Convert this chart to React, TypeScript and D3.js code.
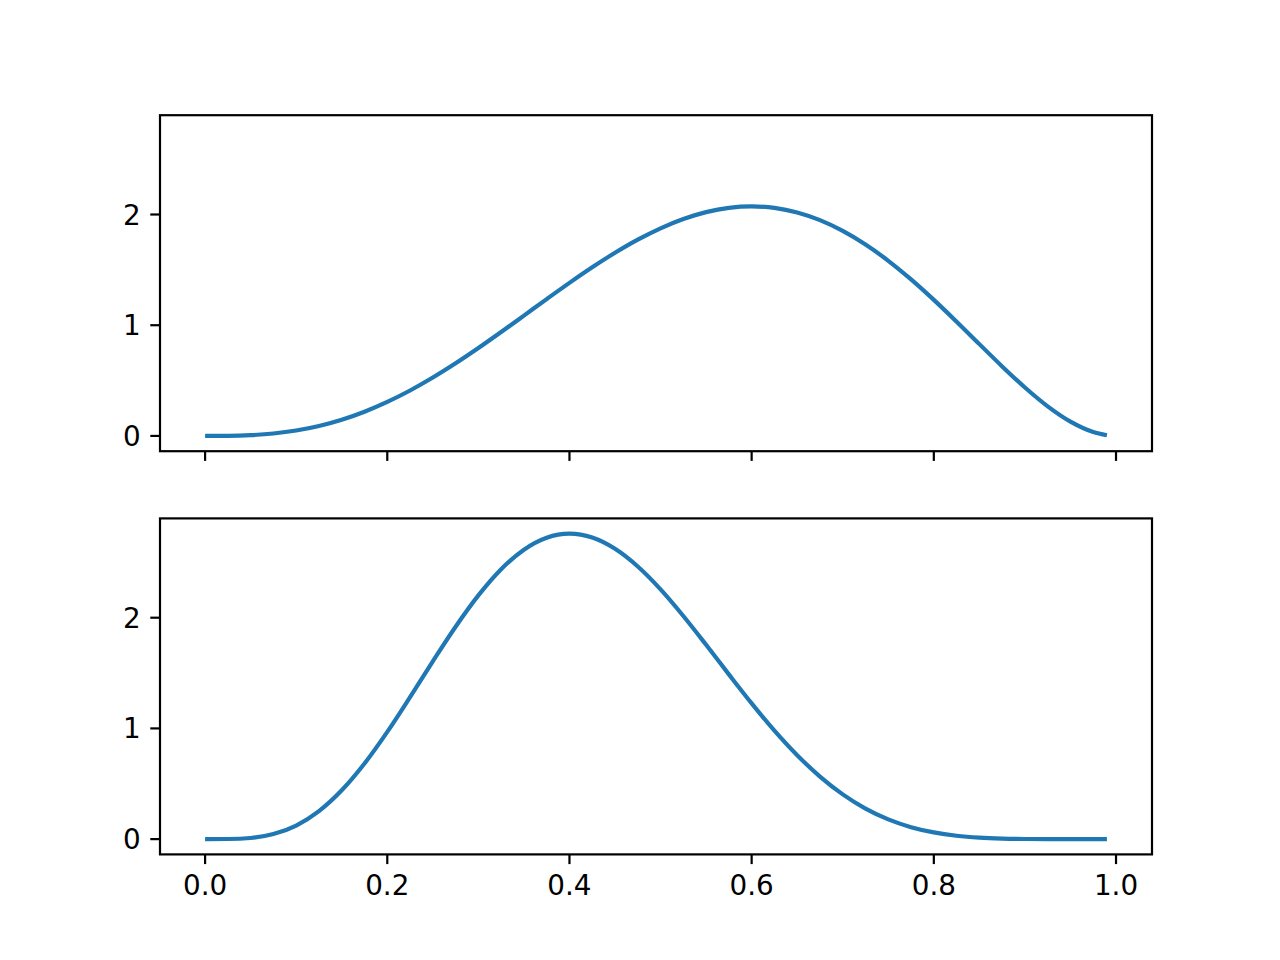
import React from "react";
import * as d3 from "d3";

const xs = [0, 0.025, 0.05, 0.075, 0.1, 0.125, 0.15, 0.175, 0.2, 0.225, 0.25, 0.275, 0.3, 0.325, 0.35, 0.375, 0.4, 0.425, 0.45, 0.475, 0.5, 0.525, 0.55, 0.575, 0.6, 0.625, 0.65, 0.675, 0.7, 0.725, 0.75, 0.775, 0.8, 0.825, 0.85, 0.875, 0.9, 0.925, 0.95, 0.975, 0.99];
const topValues = [0, 0.0009, 0.0068, 0.0217, 0.0486, 0.0897, 0.1463, 0.2189, 0.3072, 0.4105, 0.5273, 0.6559, 0.7938, 0.9384, 1.0869, 1.236, 1.3824, 1.5229, 1.6539, 1.7724, 1.875, 1.9589, 2.0215, 2.0603, 2.0736, 2.0599, 2.0185, 1.9491, 1.8522, 1.7291, 1.582, 1.4139, 1.2288, 1.0318, 0.8291, 0.6281, 0.4374, 0.2671, 0.1286, 0.0348, 0.0058];
const bottomValues = [0, 0.0008, 0.0106, 0.0458, 0.1228, 0.2531, 0.4411, 0.6831, 0.9689, 1.2828, 1.606, 1.9185, 2.2013, 2.4377, 2.6144, 2.7228, 2.759, 2.7238, 2.6221, 2.4623, 2.2559, 2.0157, 1.7553, 1.488, 1.2263, 0.9802, 0.758, 0.5651, 0.4043, 0.276, 0.1784, 0.1081, 0.0606, 0.0307, 0.0137, 0.0052, 0.0015, 0.0003, 0.0001, 0, 0];
const xTicks = [0, 0.2, 0.4, 0.6, 0.8, 1.0];
const yTicks = [0, 1, 2];

const W = 1280, H = 960;
const left = 160, right = 1152;
const panels = [
  { top: 115.2, bottom: 451.2, values: topValues, showX: false },
  { top: 518.4, bottom: 854.4, values: bottomValues, showX: true },
];
const color = "#1f77b4";
const font = "DejaVu Sans, sans-serif";
const fontSize = 27.8;
const tickLen = 9.7;
const spineW = 2.2;

export default function App() {
  const xMin = 0, xMax = 0.99;
  const xPad = (xMax - xMin) * 0.05;
  const x = d3.scaleLinear().domain([xMin - xPad, xMax + xPad]).range([left, right]);
  const yMaxData = d3.max([...topValues, ...bottomValues]) as number;
  const yPad = yMaxData * 0.05;
  const pts = xs.map((v, i) => i);
  return (
    <svg width={W} height={H} style={{ position: "absolute", left: 0, top: 0, background: "#fff" }}>
      <rect x={0} y={0} width={W} height={H} fill="#fff" />
      {panels.map((p, pi) => {
        const y = d3.scaleLinear().domain([0 - yPad, yMaxData + yPad]).range([p.bottom, p.top]);
        const line = d3
          .line<number>()
          .x((i) => x(xs[i]))
          .y((i) => y(p.values[i]))
          .curve(d3.curveMonotoneX);
        return (
          <g key={pi}>
            <defs>
              <clipPath id={`clip${pi}`}>
                <rect x={left} y={p.top} width={right - left} height={p.bottom - p.top} />
              </clipPath>
            </defs>
            <path d={line(pts) || ""} fill="none" stroke={color} strokeWidth={4.17} strokeLinejoin="round" strokeLinecap="butt" clipPath={`url(#clip${pi})`} />
            <rect x={left} y={p.top} width={right - left} height={p.bottom - p.top} fill="none" stroke="#000" strokeWidth={spineW} />
            {yTicks.map((t) => (
              <g key={t}>
                <line x1={left - tickLen} x2={left} y1={y(t)} y2={y(t)} stroke="#000" strokeWidth={spineW} />
                <text x={left - tickLen - 9.7} y={y(t)} dy="0.36em" textAnchor="end" fontFamily={font} fontSize={fontSize}>
                  {String(t)}
                </text>
              </g>
            ))}
            {xTicks.map((t) => (
              <g key={t}>
                <line x1={x(t)} x2={x(t)} y1={p.bottom} y2={p.bottom + tickLen} stroke="#000" strokeWidth={spineW} />
                {p.showX && (
                  <text x={x(t)} y={p.bottom + tickLen + 9.7} dy="0.76em" textAnchor="middle" fontFamily={font} fontSize={fontSize}>
                    {t.toFixed(1)}
                  </text>
                )}
              </g>
            ))}
          </g>
        );
      })}
    </svg>
  );
}
